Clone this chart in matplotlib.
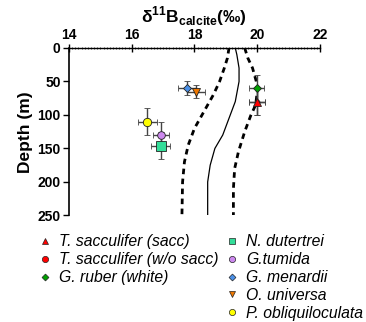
import matplotlib.pyplot as plt
from matplotlib.lines import Line2D
from matplotlib.ticker import MultipleLocator

plt.rcParams['font.family'] = ['Liberation Sans', 'DejaVu Sans']
plt.rcParams['mathtext.fontset'] = 'custom'
plt.rcParams['mathtext.rm'] = 'Liberation Sans'
plt.rcParams['mathtext.bf'] = 'Liberation Sans:bold'

# seawater-derived d11B envelope (dashed) and mean (solid)
mean_b = [19.3, 19.35, 19.42, 19.42, 19.3, 19.1, 18.9, 18.65, 18.5, 18.42, 18.42]
mean_z = [0, 10, 30, 50, 80, 105, 130, 150, 175, 200, 250]
lo_b = [19.1, 19.05, 18.95, 18.8, 18.6, 18.3, 18.0, 17.8, 17.68, 17.62, 17.6]
lo_z = [0, 15, 30, 50, 70, 95, 120, 145, 170, 200, 250]
hi_b = [19.6, 19.7, 19.85, 19.97, 20.0, 19.95, 19.8, 19.6, 19.4, 19.28, 19.24, 19.24]
hi_z = [0, 15, 30, 50, 65, 85, 100, 125, 155, 180, 210, 250]

# foraminifera measurements
species = ['T. sacculifer (sacc)', 'T. sacculifer (w/o sacc)', 'G. ruber (white)',
           'N. dutertrei', 'G.tumida', 'G. menardii', 'O. universa', 'P. obliquiloculata']
d11b = [20.0, 20.0, 19.98, 16.92, 16.93, 17.77, 18.05, 16.5]
depth = [80, 80, 60, 146, 130, 60, 65, 110]
d11b_err = [0.25, 0.25, 0.25, 0.3, 0.25, 0.28, 0.28, 0.3]
depth_err = [20, 20, 20, 20, 20, 10, 10, 20]
markers = ['^', 'o', 'D', 's', 'o', 'D', 'v', 'o']
colors = ['#ff0000', '#ff0000', '#00a000', '#33dd99', '#cc88ee', '#4a90e8', '#ee7700', '#ffff00']
sizes = [6, 3.5, 4.5, 6.5, 5.5, 4.5, 6, 6]

fig = plt.figure(figsize=(3.66, 3.22), dpi=100)
ax = fig.add_axes([0.1885, 0.331, 0.6858, 0.52])

ax.plot(lo_b, lo_z, color='black', lw=2.0, ls=(0, (2, 1.6)))
ax.plot(hi_b, hi_z, color='black', lw=2.0, ls=(0, (2, 1.6)))
ax.plot(mean_b, mean_z, color='black', lw=0.9)

# w/o sacc point sits underneath the sacc triangle
order = [1, 0, 2, 3, 4, 5, 6, 7]
for i in order:
    ax.errorbar(d11b[i], depth[i], xerr=d11b_err[i], yerr=depth_err[i],
                fmt=markers[i], ms=sizes[i], mfc=colors[i], mec='#222222', mew=0.6,
                ecolor='#444444', elinewidth=1.0, capsize=2.5, capthick=1.0, zorder=3)

ax.set_xlim(14, 22)
ax.set_ylim(250, 0)
ax.xaxis.set_ticks_position('top')
ax.xaxis.set_label_position('top')
ax.set_xticks([14, 16, 18, 20, 22])
ax.set_yticks([0, 50, 100, 150, 200, 250])
ax.xaxis.set_minor_locator(MultipleLocator(0.1))
ax.tick_params(axis='x', which='major', direction='inout', length=6, width=1, pad=1)
ax.tick_params(axis='x', which='minor', direction='inout', length=2, width=0.5)
ax.tick_params(axis='y', direction='out', length=4, width=1, pad=2)
for lab in ax.get_xticklabels() + ax.get_yticklabels():
    lab.set_fontweight('bold')
    lab.set_fontsize(10)
for s in ['right', 'bottom']:
    ax.spines[s].set_visible(False)
ax.spines['top'].set_linewidth(1.0)
ax.spines['left'].set_linewidth(1.2)

ax.set_xlabel(r'$\mathbf{\delta}^{\mathbf{11}}\mathbf{B}_{\mathbf{calcite}}$(‰)',
              fontsize=12.5, fontweight='bold', labelpad=4)
ax.set_ylabel('Depth (m)', fontsize=12.5, fontweight='bold', labelpad=3)

handles = []
for i in range(len(species)):
    handles.append(Line2D([], [], ls='none', marker=markers[i], ms=4.5 if markers[i] != 'D' else 3.5,
                          mfc=colors[i], mec='#222222', mew=0.5))
blank = Line2D([], [], ls='none')
leg_handles = handles[:3] + [blank, blank] + handles[3:]
leg_labels = species[:3] + ['', ''] + species[3:]
leg = fig.legend(leg_handles, leg_labels, ncol=2, loc='upper left',
                 bbox_to_anchor=(0.105, 0.272), frameon=False,
                 prop={'style': 'italic', 'size': 11.3}, handlelength=0.8,
                 handletextpad=0.5, columnspacing=0.45, labelspacing=0.18,
                 borderpad=0, borderaxespad=0)

fig.savefig('out.png', dpi=100)
